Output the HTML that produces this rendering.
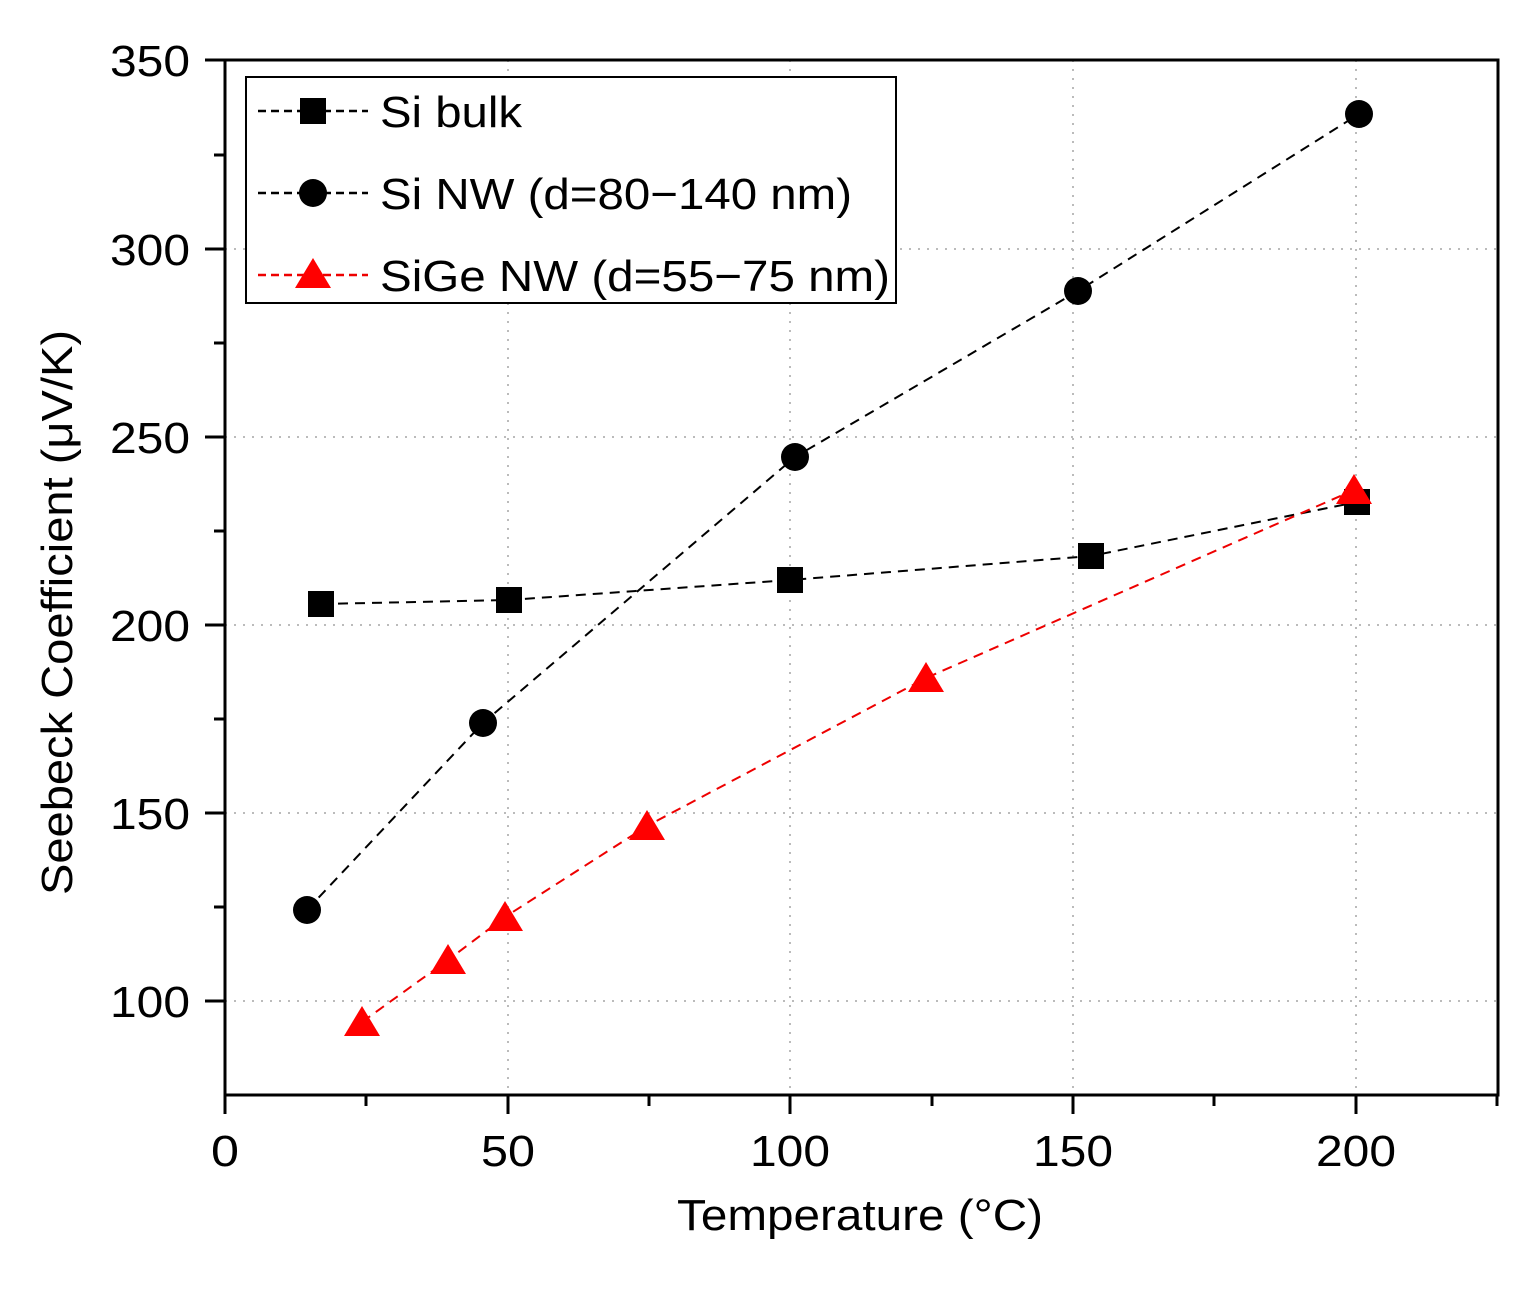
<!DOCTYPE html>
<html><head><meta charset="utf-8"><style>html,body{margin:0;padding:0;background:#fff}</style></head>
<body>
<svg width="1532" height="1288" xmlns="http://www.w3.org/2000/svg" font-family="Liberation Sans, Arial, sans-serif">
<rect width="1532" height="1288" fill="#fff"/>
<g stroke="#bbb" stroke-width="2" stroke-dasharray="2,7">
<line x1="508" y1="60" x2="508" y2="1095"/>
<line x1="790" y1="60" x2="790" y2="1095"/>
<line x1="1073" y1="60" x2="1073" y2="1095"/>
<line x1="1356" y1="60" x2="1356" y2="1095"/>
<line x1="225" y1="249" x2="1498" y2="249"/>
<line x1="225" y1="437" x2="1498" y2="437"/>
<line x1="225" y1="625" x2="1498" y2="625"/>
<line x1="225" y1="813" x2="1498" y2="813"/>
<line x1="225" y1="1001" x2="1498" y2="1001"/>
</g>
<rect x="225" y="60" width="1273" height="1035" fill="none" stroke="#000" stroke-width="3"/>
<g stroke="#000" stroke-width="3">
<line x1="225" y1="1095" x2="225" y2="1114"/><line x1="508" y1="1095" x2="508" y2="1114"/><line x1="790" y1="1095" x2="790" y2="1114"/><line x1="1073" y1="1095" x2="1073" y2="1114"/><line x1="1356" y1="1095" x2="1356" y2="1114"/>
<line x1="366" y1="1095" x2="366" y2="1106"/><line x1="649" y1="1095" x2="649" y2="1106"/><line x1="932" y1="1095" x2="932" y2="1106"/><line x1="1214" y1="1095" x2="1214" y2="1106"/><line x1="1497" y1="1095" x2="1497" y2="1106"/>
<line x1="205" y1="60" x2="225" y2="60"/><line x1="205" y1="249" x2="225" y2="249"/><line x1="205" y1="437" x2="225" y2="437"/><line x1="205" y1="625" x2="225" y2="625"/><line x1="205" y1="813" x2="225" y2="813"/><line x1="205" y1="1001" x2="225" y2="1001"/>
<line x1="214" y1="155" x2="225" y2="155"/><line x1="214" y1="343" x2="225" y2="343"/><line x1="214" y1="531" x2="225" y2="531"/><line x1="214" y1="719" x2="225" y2="719"/><line x1="214" y1="907" x2="225" y2="907"/>
</g>
<g font-size="44" fill="#000" lengthAdjust="spacingAndGlyphs">
<text x="110" y="76" textLength="80" lengthAdjust="spacingAndGlyphs">350</text>
<text x="110" y="265" textLength="80" lengthAdjust="spacingAndGlyphs">300</text>
<text x="110" y="453" textLength="80" lengthAdjust="spacingAndGlyphs">250</text>
<text x="110" y="641" textLength="80" lengthAdjust="spacingAndGlyphs">200</text>
<text x="110" y="829" textLength="80" lengthAdjust="spacingAndGlyphs">150</text>
<text x="110" y="1017" textLength="80" lengthAdjust="spacingAndGlyphs">100</text>
<text x="211" y="1166" textLength="28" lengthAdjust="spacingAndGlyphs">0</text>
<text x="481" y="1166" textLength="54" lengthAdjust="spacingAndGlyphs">50</text>
<text x="750" y="1166" textLength="80" lengthAdjust="spacingAndGlyphs">100</text>
<text x="1033" y="1166" textLength="80" lengthAdjust="spacingAndGlyphs">150</text>
<text x="1316" y="1166" textLength="80" lengthAdjust="spacingAndGlyphs">200</text>
<text x="677" y="1230" textLength="366" lengthAdjust="spacingAndGlyphs">Temperature (°C)</text>
<text transform="translate(72,895) rotate(-90)" textLength="565" lengthAdjust="spacingAndGlyphs">Seebeck Coefficient (μV/K)</text>
</g>
<g fill="none" stroke-width="2" stroke-dasharray="10,7">
<polyline stroke="#000" points="321,604 509,600 790,580 1091,556 1357,502"/>
<polyline stroke="#000" points="307,910 483,723 795,457 1078,291 1359,114"/>
<polyline stroke="#e00" points="362,1022 448,960 505,917 647,826 926,678 1354,490"/>
</g>
<g fill="#000">
<rect x="308" y="591" width="26" height="26"/><rect x="496" y="587" width="26" height="26"/><rect x="777" y="567" width="26" height="26"/><rect x="1078" y="543" width="26" height="26"/><rect x="1344" y="489" width="26" height="26"/>
<circle cx="307" cy="910" r="14"/><circle cx="483" cy="723" r="14"/><circle cx="795" cy="457" r="14"/><circle cx="1078" cy="291" r="14"/><circle cx="1359" cy="114" r="14"/>
</g>
<g fill="#f00">
<polygon points="362,1006 344,1036 380,1036"/><polygon points="448,944 430,974 466,974"/><polygon points="505,901 487,931 523,931"/><polygon points="647,810 629,840 665,840"/><polygon points="926,662 908,692 944,692"/><polygon points="1354,474 1336,504 1372,504"/>
</g>
<rect x="246" y="77" width="650" height="226" fill="#fff" stroke="#000" stroke-width="2"/>
<g stroke-width="2.5" stroke-dasharray="8,5">
<line x1="258" y1="111" x2="368" y2="111" stroke="#000"/>
<line x1="258" y1="193" x2="368" y2="193" stroke="#000"/>
<line x1="258" y1="275" x2="368" y2="275" stroke="#e00"/>
</g>
<rect x="300" y="98" width="26" height="26" fill="#000"/>
<circle cx="313" cy="193" r="14" fill="#000"/>
<polygon points="313,258 295,288 331,288" fill="#f00"/>
<g font-size="44" fill="#000">
<text x="380" y="127" textLength="142" lengthAdjust="spacingAndGlyphs">Si bulk</text>
<text x="380" y="209" textLength="472" lengthAdjust="spacingAndGlyphs">Si NW (d=80−140 nm)</text>
<text x="380" y="291" textLength="510" lengthAdjust="spacingAndGlyphs">SiGe NW (d=55−75 nm)</text>
</g>
</svg>
</body></html>
